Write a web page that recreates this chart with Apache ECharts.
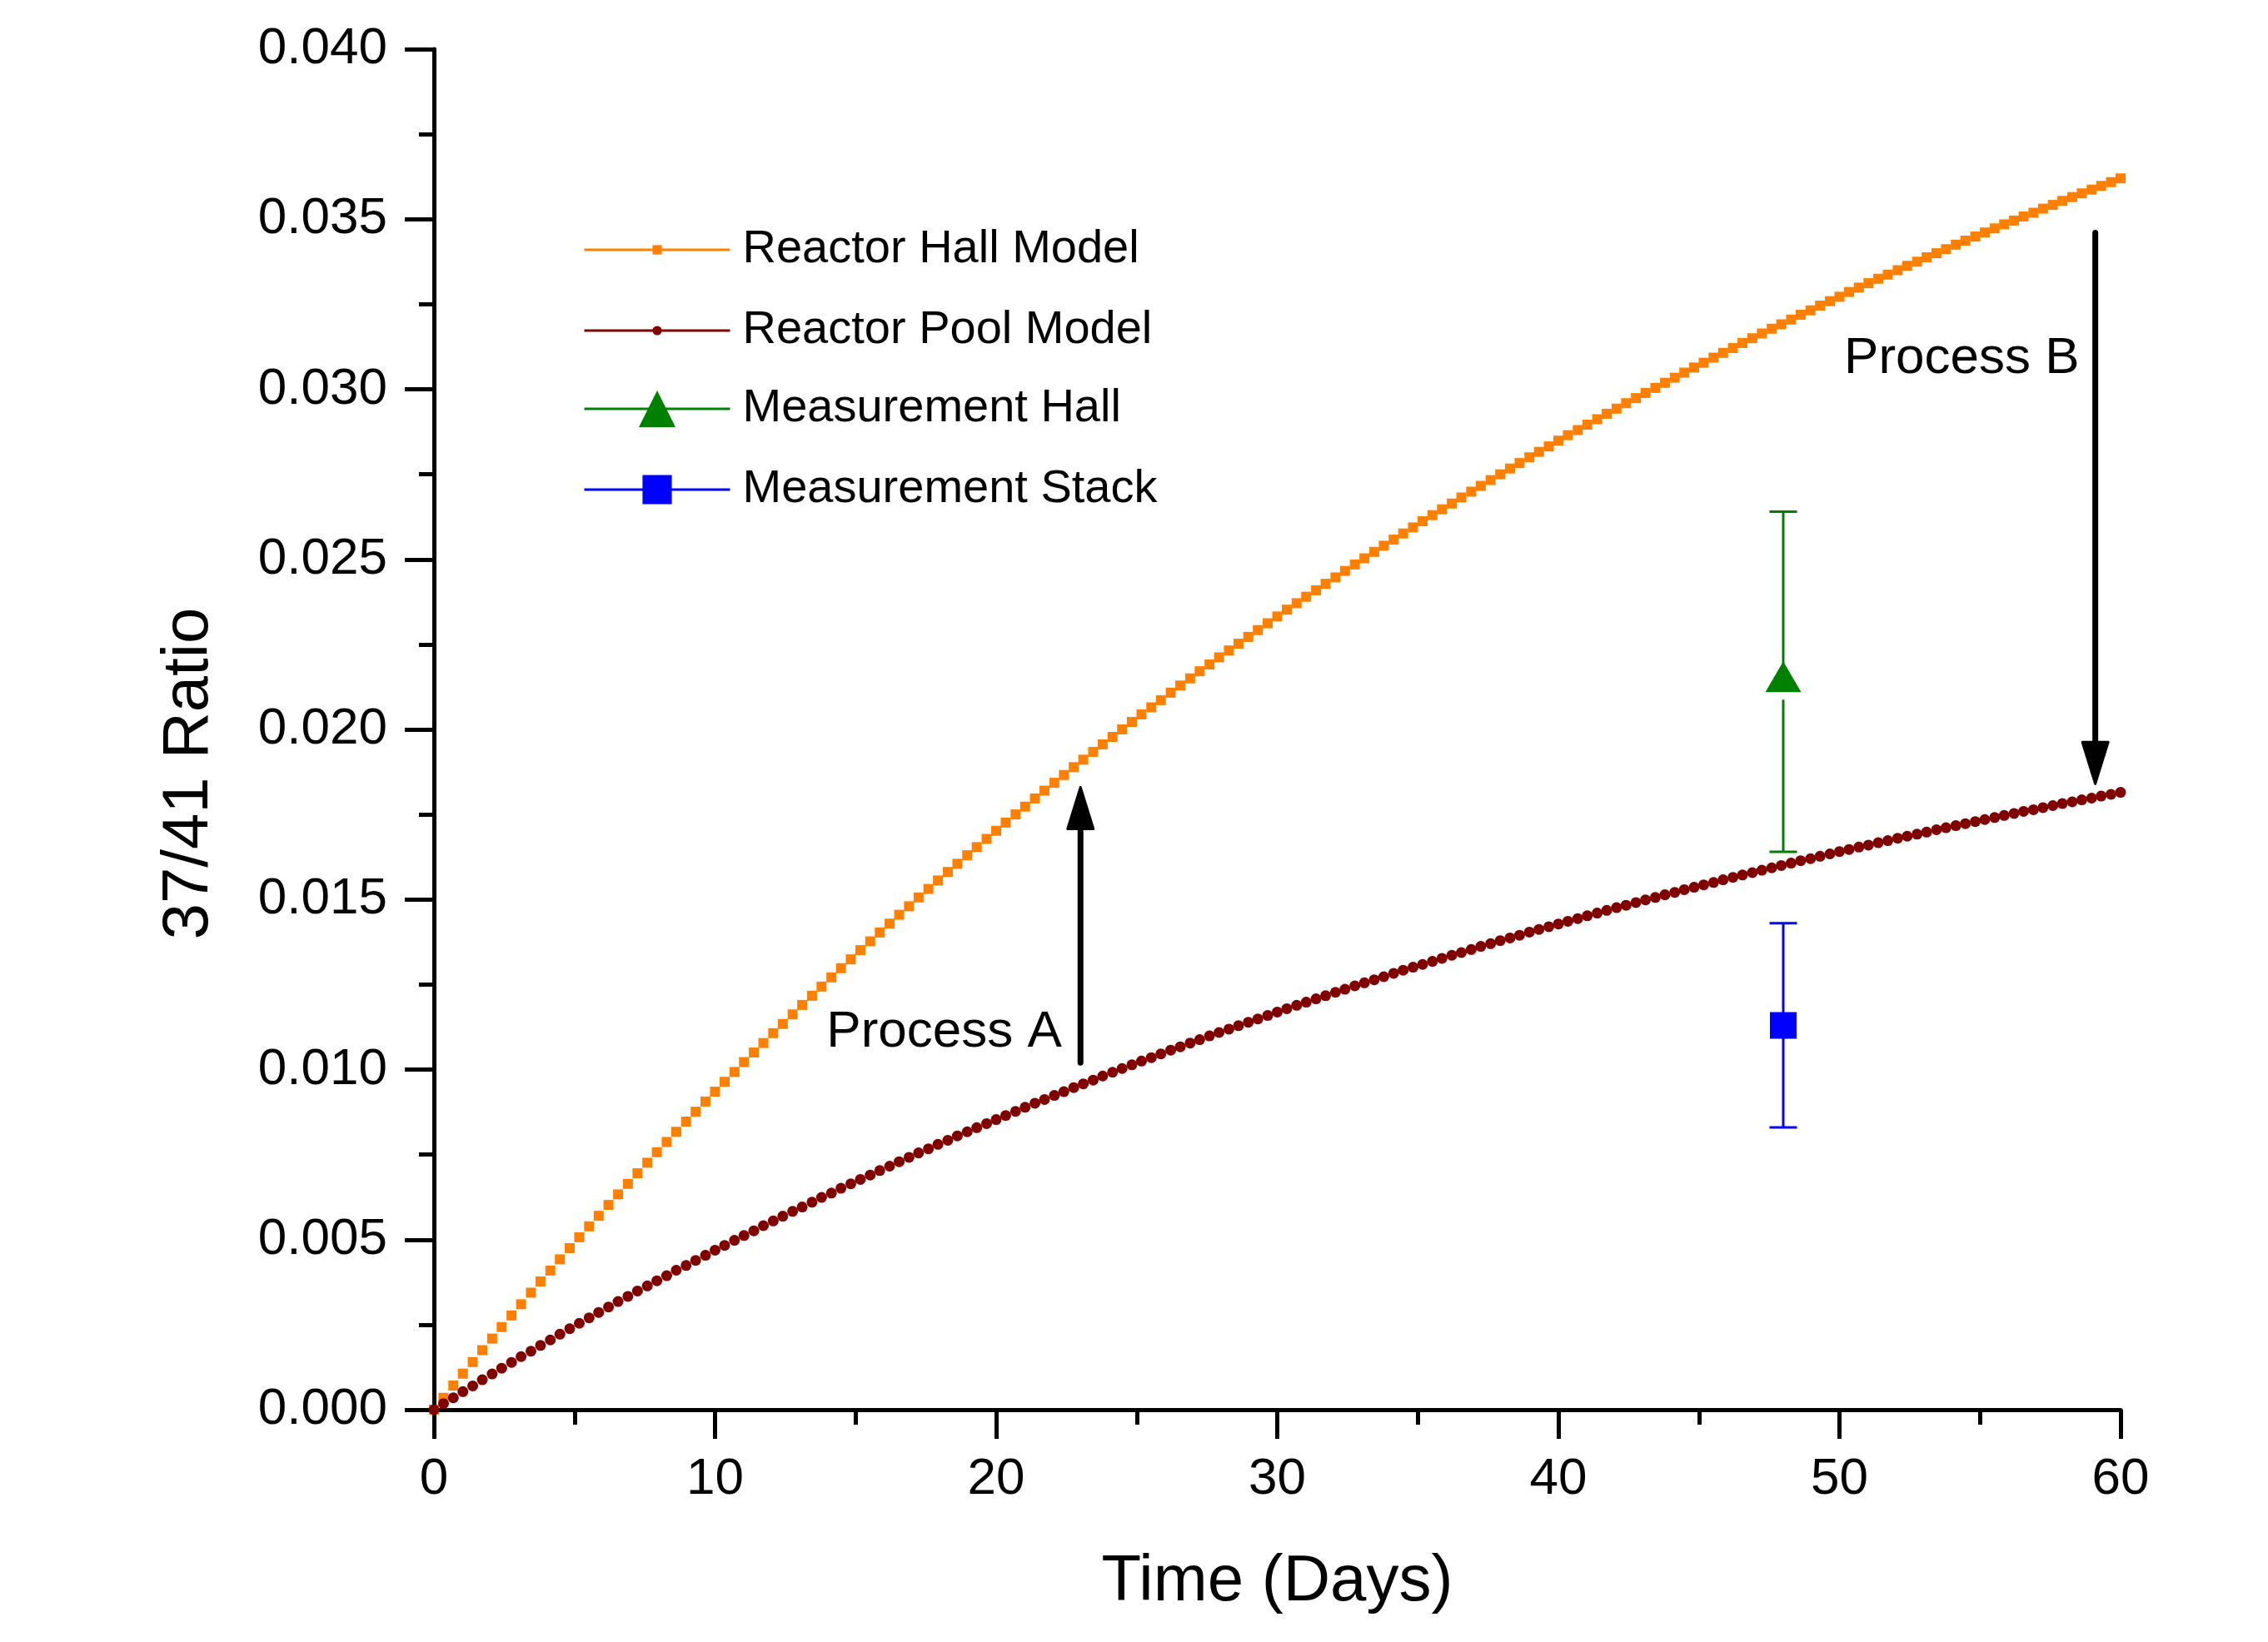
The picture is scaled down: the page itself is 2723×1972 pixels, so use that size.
<!DOCTYPE html>
<html><head><meta charset="utf-8">
<script src="https://cdn.jsdelivr.net/npm/echarts@6/dist/echarts.min.js"></script>
<style>html,body{margin:0;padding:0;background:#fff}#c{width:2723px;height:1972px}</style>
</head><body><div id="c"></div>
<script>
// ---- data ----
const timeDays = [
 0,0.34,0.69,1.03,1.38,1.72,2.07,2.41,2.76,3.10,3.45,3.79,4.14,4.48,4.83,5.17,5.52,5.86,6.21,6.55,6.90,7.24,7.59,7.93,8.28,8.62,8.97,9.31,9.66,
 10,10.34,10.69,11.03,11.38,11.72,12.07,12.41,12.76,13.10,13.45,13.79,14.14,14.48,14.83,15.17,15.52,15.86,16.21,16.55,16.90,17.24,17.59,17.93,18.28,18.62,18.97,19.31,19.66,
 20,20.34,20.69,21.03,21.38,21.72,22.07,22.41,22.76,23.10,23.45,23.79,24.14,24.48,24.83,25.17,25.52,25.86,26.21,26.55,26.90,27.24,27.59,27.93,28.28,28.62,28.97,29.31,29.66,
 30,30.34,30.69,31.03,31.38,31.72,32.07,32.41,32.76,33.10,33.45,33.79,34.14,34.48,34.83,35.17,35.52,35.86,36.21,36.55,36.90,37.24,37.59,37.93,38.28,38.62,38.97,39.31,39.66,
 40,40.34,40.69,41.03,41.38,41.72,42.07,42.41,42.76,43.10,43.45,43.79,44.14,44.48,44.83,45.17,45.52,45.86,46.21,46.55,46.90,47.24,47.59,47.93,48.28,48.62,48.97,49.31,49.66,
 50,50.34,50.69,51.03,51.38,51.72,52.07,52.41,52.76,53.10,53.45,53.79,54.14,54.48,54.83,55.17,55.52,55.86,56.21,56.55,56.90,57.24,57.59,57.93,58.28,58.62,58.97,59.31,59.66,
 60];
const hallModel = [
 0,0.00035,0.00071,0.00106,0.00140,0.00175,0.00209,0.00243,0.00277,0.00310,
 0.00344,0.00377,0.00409,0.00442,0.00475,0.00507,0.00539,0.00570,0.00602,0.00633,
 0.00664,0.00695,0.00726,0.00757,0.00787,0.00817,0.00847,0.00876,0.00906,0.00935,
 0.00964,0.00993,0.01022,0.01050,0.01078,0.01107,0.01134,0.01162,0.01190,0.01217,
 0.01244,0.01271,0.01298,0.01324,0.01351,0.01377,0.01403,0.01429,0.01455,0.01480,
 0.01506,0.01531,0.01556,0.01581,0.01605,0.01630,0.01654,0.01678,0.01702,0.01726,
 0.01750,0.01773,0.01797,0.01820,0.01843,0.01866,0.01889,0.01911,0.01934,0.01956,
 0.01978,0.02000,0.02022,0.02044,0.02065,0.02086,0.02108,0.02129,0.02150,0.02171,
 0.02191,0.02212,0.02232,0.02252,0.02272,0.02292,0.02312,0.02332,0.02352,0.02371,
 0.02390,0.02409,0.02428,0.02447,0.02466,0.02485,0.02503,0.02522,0.02540,0.02558,
 0.02576,0.02594,0.02612,0.02630,0.02647,0.02664,0.02682,0.02699,0.02716,0.02733,
 0.02750,0.02767,0.02783,0.02800,0.02816,0.02832,0.02849,0.02865,0.02880,0.02896,
 0.02912,0.02928,0.02943,0.02959,0.02974,0.02989,0.03004,0.03019,0.03034,0.03049,
 0.03064,0.03078,0.03093,0.03107,0.03121,0.03136,0.03150,0.03164,0.03178,0.03191,
 0.03205,0.03219,0.03232,0.03246,0.03259,0.03272,0.03286,0.03299,0.03312,0.03325,
 0.03337,0.03350,0.03363,0.03375,0.03388,0.03400,0.03412,0.03425,0.03437,0.03449,
 0.03461,0.03473,0.03485,0.03496,0.03508,0.03519,0.03531,0.03542,0.03554,0.03565,
 0.03576,0.03587,0.03598,0.03609,0.03620];
const poolModel = [
 0,0.00018,0.00035,0.00053,0.00070,0.00088,0.00105,0.00122,0.00139,0.00156,
 0.00172,0.00189,0.00205,0.00222,0.00238,0.00254,0.00270,0.00286,0.00302,0.00318,
 0.00333,0.00349,0.00364,0.00379,0.00394,0.00410,0.00424,0.00439,0.00454,0.00469,
 0.00483,0.00498,0.00512,0.00526,0.00541,0.00555,0.00569,0.00583,0.00596,0.00610,
 0.00624,0.00637,0.00651,0.00664,0.00677,0.00690,0.00703,0.00716,0.00729,0.00742,
 0.00755,0.00767,0.00780,0.00792,0.00805,0.00817,0.00829,0.00841,0.00853,0.00865,
 0.00877,0.00889,0.00901,0.00912,0.00924,0.00935,0.00947,0.00958,0.00969,0.00981,
 0.00992,0.01003,0.01014,0.01025,0.01035,0.01046,0.01057,0.01067,0.01078,0.01088,
 0.01099,0.01109,0.01119,0.01129,0.01139,0.01149,0.01159,0.01169,0.01179,0.01189,
 0.01198,0.01208,0.01217,0.01227,0.01236,0.01246,0.01255,0.01264,0.01273,0.01283,
 0.01292,0.01301,0.01309,0.01318,0.01327,0.01336,0.01344,0.01353,0.01362,0.01370,
 0.01379,0.01387,0.01395,0.01404,0.01412,0.01420,0.01428,0.01436,0.01444,0.01452,
 0.01460,0.01468,0.01476,0.01483,0.01491,0.01499,0.01506,0.01514,0.01521,0.01529,
 0.01536,0.01543,0.01550,0.01558,0.01565,0.01572,0.01579,0.01586,0.01593,0.01600,
 0.01607,0.01614,0.01620,0.01627,0.01634,0.01641,0.01647,0.01654,0.01660,0.01667,
 0.01673,0.01680,0.01686,0.01692,0.01698,0.01705,0.01711,0.01717,0.01723,0.01729,
 0.01735,0.01741,0.01747,0.01753,0.01759,0.01764,0.01770,0.01776,0.01782,0.01787,
 0.01793,0.01798,0.01804,0.01809,0.01815];
const measTime = [48];
const hallMeas = [0.0214];
const hallErr = [0.0050];
const stackMeas = [0.0113];
const stackErr = [0.0030];
const arrowX = [23, 59.1];
const arrowFrom = [0.0102, 0.0346];
const arrowTo = [0.0183, 0.0184];
const noteText = ['Process A', 'Process B'];
const noteX = [18.15, 54.35];
const noteY = [0.0111, 0.0309];
const seriesNames = ['Reactor Hall Model', 'Reactor Pool Model', 'Measurement Hall', 'Measurement Stack'];
const xAxisTitle = 'Time (Days)';
const yAxisTitle = '37/41 Ratio';

// ---- chart ----
const FONT = '"Liberation Sans", Arial, sans-serif';
const ORANGE = '#FF8000', WINE = '#800000', GREEN = '#008000', BLUE = '#0000FF';

function errRender(gapHalf, capHalf, color) {
  return function (params, api) {
    const x = api.value(0);
    const pc = api.coord([x, api.value(1)]);
    const pl = api.coord([x, api.value(2)]);
    const ph = api.coord([x, api.value(3)]);
    const st = { stroke: color, lineWidth: 3 };
    return { type: 'group', children: [
      { type: 'line', shape: { x1: pc[0], y1: pc[1] - gapHalf, x2: ph[0], y2: ph[1] }, style: st },
      { type: 'line', shape: { x1: pc[0], y1: pc[1] + gapHalf, x2: pl[0], y2: pl[1] }, style: st },
      { type: 'line', shape: { x1: ph[0] - capHalf, y1: ph[1], x2: ph[0] + capHalf, y2: ph[1] }, style: st },
      { type: 'line', shape: { x1: pl[0] - capHalf, y1: pl[1], x2: pl[0] + capHalf, y2: pl[1] }, style: st }
    ]};
  };
}

function arrowRender(params, api) {
  const x = api.value(0);
  const p0 = api.coord([x, api.value(1)]);
  const p1 = api.coord([x, api.value(2)]);
  const dir = p1[1] < p0[1] ? -1 : 1;
  const headLen = 50, headHalf = 15.5;
  const baseY = p1[1] - dir * headLen;
  return { type: 'group', children: [
    { type: 'line', shape: { x1: p0[0], y1: p0[1], x2: p1[0], y2: baseY + dir * 2 },
      style: { stroke: '#000', lineWidth: 7, lineCap: 'round' } },
    { type: 'polygon', shape: { points: [[p1[0], p1[1]], [p1[0] - headHalf, baseY], [p1[0] + headHalf, baseY]] },
      style: { fill: '#000', stroke: '#000', lineWidth: 3, lineJoin: 'round' } }
  ]};
}

function noteRender(params, api) {
  const p = api.coord([api.value(0), api.value(1)]);
  return { type: 'text', x: p[0], y: p[1],
    style: { text: noteText[params.dataIndex], fill: '#000', fontSize: 62, fontFamily: FONT,
             align: 'center', verticalAlign: 'middle' } };
}

const legendBase = {
  left: 695, orient: 'vertical', itemWidth: 175, selectedMode: false,
  textStyle: { fontSize: 56, fontFamily: FONT, color: '#000', padding: [0, 0, 0, 10] },
  lineStyle: { width: 3 }
};

const option = {
  animation: false,
  backgroundColor: '#fff',
  textStyle: { fontFamily: FONT },
  grid: { left: 521, right: 177, top: 59, bottom: 279, containLabel: false },
  legend: [
    Object.assign({}, legendBase, { data: [seriesNames[0]], top: 267, itemHeight: 14 }),
    Object.assign({}, legendBase, { data: [seriesNames[1]], top: 364, itemHeight: 14 }),
    Object.assign({}, legendBase, { data: [seriesNames[2]], top: 458, itemHeight: 55 }),
    Object.assign({}, legendBase, { data: [seriesNames[3]], top: 555, itemHeight: 44 })
  ],
  xAxis: {
    type: 'value', min: 0, max: 60, interval: 10,
    name: xAxisTitle, nameLocation: 'middle', nameGap: 168,
    nameTextStyle: { fontSize: 78, color: '#000', fontFamily: FONT },
    axisLine: { show: true, onZero: false, lineStyle: { color: '#000', width: 5 } },
    axisTick: { show: true, inside: false, length: 35, lineStyle: { color: '#000', width: 5 } },
    minorTick: { show: true, splitNumber: 2, length: 18, lineStyle: { color: '#000', width: 5 } },
    splitLine: { show: false },
    axisLabel: { fontSize: 62, color: '#000', margin: 53, fontFamily: FONT }
  },
  yAxis: {
    type: 'value', min: 0, max: 0.04, interval: 0.005,
    name: yAxisTitle, nameLocation: 'middle', nameGap: 255, nameRotate: 90,
    nameTextStyle: { fontSize: 78, color: '#000', fontFamily: FONT, padding: [0, 106, 0, 0] },
    axisLine: { show: true, onZero: false, lineStyle: { color: '#000', width: 5 } },
    axisTick: { show: true, inside: false, length: 35, lineStyle: { color: '#000', width: 5 } },
    minorTick: { show: true, splitNumber: 2, length: 18, lineStyle: { color: '#000', width: 5 } },
    splitLine: { show: false },
    axisLabel: { fontSize: 62, color: '#000', margin: 56, fontFamily: FONT,
                 formatter: v => v.toFixed(3) }
  },
  series: [
    { name: seriesNames[0], type: 'line', data: timeDays.map((t, i) => [t, hallModel[i]]),
      symbol: 'rect', symbolSize: 12, showSymbol: true, z: 3,
      itemStyle: { color: ORANGE }, lineStyle: { color: ORANGE, width: 0 } },
    { name: seriesNames[1], type: 'line', data: timeDays.map((t, i) => [t, poolModel[i]]),
      symbol: 'circle', symbolSize: 13, showSymbol: true, z: 3,
      itemStyle: { color: WINE }, lineStyle: { color: WINE, width: 0 } },
    { name: seriesNames[2], type: 'line', data: measTime.map((t, i) => [t, hallMeas[i]]),
      symbol: 'triangle', symbolSize: [43, 37], symbolOffset: [0, -6], z: 5,
      itemStyle: { color: GREEN }, lineStyle: { color: GREEN, width: 3 } },
    { name: seriesNames[3], type: 'line', data: measTime.map((t, i) => [t, stackMeas[i]]),
      symbol: 'rect', symbolSize: 32, z: 5,
      itemStyle: { color: BLUE }, lineStyle: { color: BLUE, width: 3 } },
    { type: 'custom', z: 4, renderItem: errRender(21.5, 16.5, GREEN), encode: { x: 0, y: [1, 2, 3] },
      data: measTime.map((t, i) => [t, hallMeas[i], hallMeas[i] - hallErr[i], hallMeas[i] + hallErr[i]]) },
    { type: 'custom', z: 4, renderItem: errRender(0, 16.5, BLUE), encode: { x: 0, y: [1, 2, 3] },
      data: measTime.map((t, i) => [t, stackMeas[i], stackMeas[i] - stackErr[i], stackMeas[i] + stackErr[i]]) },
    { type: 'custom', z: 6, renderItem: arrowRender, encode: { x: 0, y: [1, 2] },
      data: arrowX.map((x, i) => [x, arrowFrom[i], arrowTo[i]]) },
    { type: 'custom', z: 6, renderItem: noteRender, encode: { x: 0, y: 1 },
      data: noteX.map((x, i) => [x, noteY[i]]) }
  ]
};

const chart = echarts.init(document.getElementById('c'), null, { renderer: 'canvas' });
chart.setOption(option);
</script>
</body></html>
